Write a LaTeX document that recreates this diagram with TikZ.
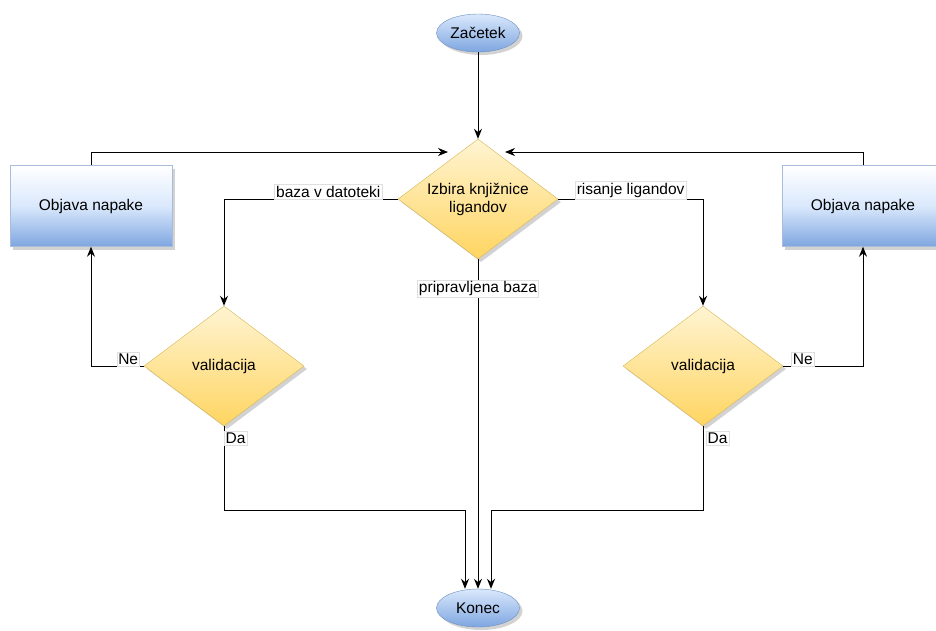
\documentclass[tikz,border=0pt]{standalone}
\usepackage{fontspec}
\setmainfont{Liberation Sans}
\usetikzlibrary{shapes.geometric,arrows.meta,shadows}
\definecolor{termtop}{HTML}{DAE8FC}
\definecolor{termbot}{HTML}{7EA6E0}
\definecolor{termline}{HTML}{6C8EBF}
\definecolor{choicetop}{HTML}{FFF4D2}
\definecolor{choicebot}{HTML}{FFD561}
\definecolor{choiceline}{HTML}{D6B656}
\definecolor{boxbot}{HTML}{7EA6E0}
\definecolor{boxline}{HTML}{A9BCDA}
\begin{document}
\begin{tikzpicture}[x={(1pt,0)},y={(0,-1pt)},
  font=\fontsize{15.5}{18}\selectfont,
  shade/.style={drop shadow={shadow xshift=3pt,shadow yshift=-3pt,fill=gray!35,opacity=1}},
  term/.style={ellipse,draw=termline,top color=termtop,bottom color=termbot,
    minimum width=83pt,minimum height=38pt,inner sep=0pt,shade},
  choice/.style={diamond,aspect=1.33,draw=choiceline,top color=choicetop,bottom color=choicebot,
    minimum width=160pt,minimum height=120pt,inner sep=0pt,align=center,shade},
  errbox/.style={rectangle,draw=boxline,top color=white,bottom color=boxbot,
    middle color=termtop,minimum width=162pt,minimum height=81pt,shade},
  arr/.style={line width=1pt,-{Stealth[length=10pt,width=8pt]}},
  lbl/.style={fill=white,draw=gray!25,line width=0.4pt,inner sep=1.5pt}]
\useasboundingbox (0,0) rectangle (936,630);
% nodes
\node[term] at (478,33) (start){Začetek};
\node[choice] at (478,199) (choose){Izbira knjižnice\\ligandov};
\node[term] at (478,608) (stop){Konec};
\node[errbox] at (91,206) (errL){Objava napake};
\node[errbox] at (863,206) (errR){Objava napake};
\foreach \s/\x in {L/224,R/703}
  {\node[choice] at (\x,366) (val\s){validacija};}
\coordinate (inL) at (448,152);
\coordinate (inR) at (505,152);
% connectors
\draw[arr] (start) -- (choose);
\draw[arr] (errL.north) |- (inL);
\draw[arr] (errR.north) |- (inR);
\draw[arr] (choose.west) -| node[lbl,pos=0.2,anchor=south]{baza v datoteki} (valL.north);
\draw[arr] (choose.east) -| node[lbl,pos=0.25,anchor=south]{risanje ligandov} (valR.north);
\draw[arr] (choose.south) -- node[lbl,pos=0.09]{pripravljena baza} (stop.north);
\draw[arr] (valL.west) -| node[lbl,pos=0,anchor=south east,xshift=-4pt]{Ne} (errL.south);
\draw[arr] (valR.east) -| node[lbl,pos=0,anchor=south west,xshift=8pt]{Ne} (errR.south);
\draw[arr] (valL.south) -- node[lbl,pos=0,anchor=north west,yshift=-5pt]{Da} ++(0,84) -| ([xshift=-13pt]stop.north);
\draw[arr] (valR.south) -- node[lbl,pos=0,anchor=north west,xshift=3pt,yshift=-5pt]{Da} ++(0,84) -| ([xshift=13pt]stop.north);
\end{tikzpicture}
\end{document}
